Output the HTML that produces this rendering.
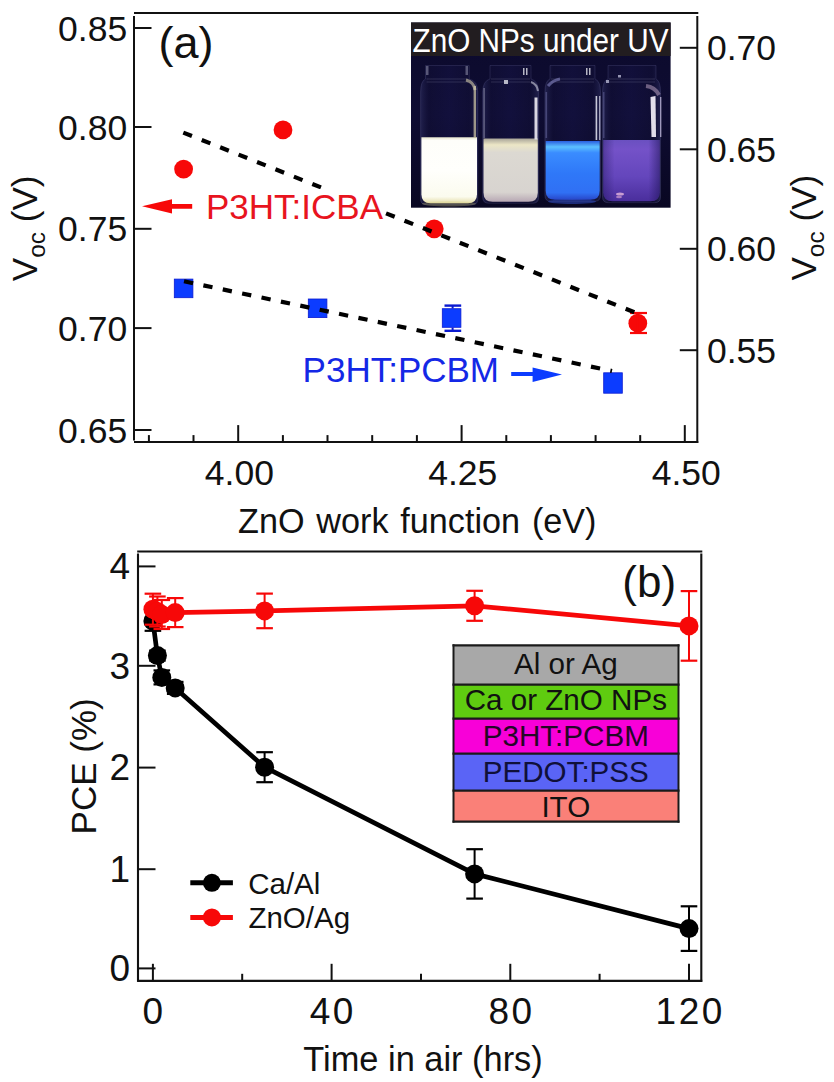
<!DOCTYPE html>
<html><head><meta charset="utf-8"><style>
html,body{margin:0;padding:0;background:#fff;}
svg{display:block;font-family:"Liberation Sans", sans-serif;}
</style></head><body>
<svg width="834" height="1082" viewBox="0 0 834 1082">
<rect width="834" height="1082" fill="#fff"/>
<line x1="134.0" y1="13.0" x2="698.3" y2="13.0" stroke="#111" stroke-width="2.2" />
<line x1="134.0" y1="16.0" x2="134.0" y2="440.5" stroke="#111" stroke-width="2" />
<line x1="697.3" y1="16.0" x2="697.3" y2="443.1" stroke="#111" stroke-width="2" />
<line x1="134.0" y1="442.1" x2="698.3" y2="442.1" stroke="#111" stroke-width="2" />
<line x1="134.0" y1="28.0" x2="151.5" y2="28.0" stroke="#111" stroke-width="2" />
<text x="127.2" y="40.5" font-size="35.5" text-anchor="end" fill="#111" >0.85</text>
<line x1="134.0" y1="127.0" x2="151.5" y2="127.0" stroke="#111" stroke-width="2" />
<text x="127.2" y="139.5" font-size="35.5" text-anchor="end" fill="#111" >0.80</text>
<line x1="134.0" y1="228.8" x2="151.5" y2="228.8" stroke="#111" stroke-width="2" />
<text x="127.2" y="241.3" font-size="35.5" text-anchor="end" fill="#111" >0.75</text>
<line x1="134.0" y1="328.1" x2="151.5" y2="328.1" stroke="#111" stroke-width="2" />
<text x="127.2" y="340.6" font-size="35.5" text-anchor="end" fill="#111" >0.70</text>
<line x1="134.0" y1="430.0" x2="151.5" y2="430.0" stroke="#111" stroke-width="2" />
<text x="127.2" y="442.5" font-size="35.5" text-anchor="end" fill="#111" >0.65</text>
<line x1="679.8" y1="47.8" x2="697.3" y2="47.8" stroke="#111" stroke-width="2" />
<text x="707.0" y="60.3" font-size="35.5" text-anchor="start" fill="#111" >0.70</text>
<line x1="679.8" y1="149.3" x2="697.3" y2="149.3" stroke="#111" stroke-width="2" />
<text x="707.0" y="161.8" font-size="35.5" text-anchor="start" fill="#111" >0.65</text>
<line x1="679.8" y1="248.8" x2="697.3" y2="248.8" stroke="#111" stroke-width="2" />
<text x="707.0" y="261.3" font-size="35.5" text-anchor="start" fill="#111" >0.60</text>
<line x1="679.8" y1="350.2" x2="697.3" y2="350.2" stroke="#111" stroke-width="2" />
<text x="707.0" y="362.7" font-size="35.5" text-anchor="start" fill="#111" >0.55</text>
<line x1="238.2" y1="442.1" x2="238.2" y2="425.1" stroke="#111" stroke-width="2" />
<line x1="461.6" y1="442.1" x2="461.6" y2="425.1" stroke="#111" stroke-width="2" />
<line x1="684.8" y1="442.1" x2="684.8" y2="425.1" stroke="#111" stroke-width="2" />
<line x1="148.9" y1="442.1" x2="148.9" y2="435.1" stroke="#111" stroke-width="2" />
<line x1="193.5" y1="442.1" x2="193.5" y2="435.1" stroke="#111" stroke-width="2" />
<line x1="282.9" y1="442.1" x2="282.9" y2="435.1" stroke="#111" stroke-width="2" />
<line x1="327.5" y1="442.1" x2="327.5" y2="435.1" stroke="#111" stroke-width="2" />
<line x1="372.2" y1="442.1" x2="372.2" y2="435.1" stroke="#111" stroke-width="2" />
<line x1="416.9" y1="442.1" x2="416.9" y2="435.1" stroke="#111" stroke-width="2" />
<line x1="506.3" y1="442.1" x2="506.3" y2="435.1" stroke="#111" stroke-width="2" />
<line x1="550.9" y1="442.1" x2="550.9" y2="435.1" stroke="#111" stroke-width="2" />
<line x1="595.6" y1="442.1" x2="595.6" y2="435.1" stroke="#111" stroke-width="2" />
<line x1="640.2" y1="442.1" x2="640.2" y2="435.1" stroke="#111" stroke-width="2" />
<text x="239.4" y="484.6" font-size="35.5" text-anchor="middle" fill="#111" >4.00</text>
<text x="462.8" y="484.6" font-size="35.5" text-anchor="middle" fill="#111" >4.25</text>
<text x="686.2" y="484.6" font-size="35.5" text-anchor="middle" fill="#111" >4.50</text>
<text x="238.0" y="532.5" font-size="35" text-anchor="start" fill="#111" word-spacing="2.4" textLength="358.5" lengthAdjust="spacingAndGlyphs">ZnO work function (eV)</text>
<text x="158.5" y="58.0" font-size="45" text-anchor="start" fill="#111" >(a)</text>
<text transform="translate(36.9,281.2) rotate(-90)" font-size="35" fill="#111">V<tspan font-size="24.5" dy="8">oc</tspan><tspan dy="-8"> (V)</tspan></text>
<text transform="translate(816.4,280.5) rotate(-90)" font-size="35" fill="#111">V<tspan font-size="24.5" dy="8">oc</tspan><tspan dy="-8"> (V)</tspan></text>
<defs>
<linearGradient id="bg" x1="0" y1="0" x2="0" y2="1"><stop offset="0" stop-color="#0c0a2c"/><stop offset="0.5" stop-color="#0e0c32"/><stop offset="1" stop-color="#090722"/></linearGradient>
<linearGradient id="l1" x1="0" y1="0" x2="0" y2="1"><stop offset="0" stop-color="#e6e4cc"/><stop offset="0.05" stop-color="#fefefa"/><stop offset="0.5" stop-color="#fffffc"/><stop offset="0.9" stop-color="#fbfbee"/><stop offset="1" stop-color="#e4dca8"/></linearGradient>
<linearGradient id="l2" x1="0" y1="0" x2="0" y2="1"><stop offset="0" stop-color="#a8a498"/><stop offset="0.1" stop-color="#ece6c6"/><stop offset="0.22" stop-color="#dcd9d2"/><stop offset="0.85" stop-color="#d8d4d0"/><stop offset="1" stop-color="#b8a8b4"/></linearGradient>
<linearGradient id="l3" x1="0" y1="0" x2="0" y2="1"><stop offset="0" stop-color="#2a5ee0"/><stop offset="0.1" stop-color="#5cc0ff"/><stop offset="0.2" stop-color="#3a8cff"/><stop offset="0.55" stop-color="#2f78f8"/><stop offset="0.88" stop-color="#3070f4"/><stop offset="1" stop-color="#2846c8"/></linearGradient>
<linearGradient id="l4" x1="0" y1="0" x2="0" y2="1"><stop offset="0" stop-color="#6a50c0"/><stop offset="0.15" stop-color="#7452c8"/><stop offset="0.6" stop-color="#6446bc"/><stop offset="1" stop-color="#4a2e9c"/></linearGradient><linearGradient id="l4h" x1="0" y1="0" x2="1" y2="0"><stop offset="0" stop-color="#1a1050" stop-opacity="0.35"/><stop offset="0.2" stop-color="#1a1050" stop-opacity="0"/><stop offset="0.8" stop-color="#1a1050" stop-opacity="0"/><stop offset="1" stop-color="#1a1050" stop-opacity="0.5"/></linearGradient>
<linearGradient id="gl" x1="0" y1="0" x2="1" y2="0"><stop offset="0" stop-color="#2a2a5a" stop-opacity="0.7"/><stop offset="0.15" stop-color="#14123a" stop-opacity="0.35"/><stop offset="0.5" stop-color="#1a1850" stop-opacity="0.35"/><stop offset="0.85" stop-color="#14123a" stop-opacity="0.35"/><stop offset="1" stop-color="#2a2a5a" stop-opacity="0.7"/></linearGradient>
</defs>
<rect x="411.0" y="22.5" width="259.6" height="185.2" fill="url(#bg)"/>
<rect x="411.0" y="22.5" width="259.6" height="33.5" fill="#221d20"/>
<path d="M425.5 65.5 L469.2 65.5 L469.2 79 Q477.8 81 477.8 92 L477.8 199.3 Q477.8 204.8 471.8 204.8 L426.6 204.8 Q420.6 204.8 420.6 199.3 L420.6 92 Q420.6 81 425.5 79 Z" fill="url(#gl)" stroke="#6a6a9a" stroke-width="0.8" stroke-opacity="0.3"/>
<path d="M426.5 79 L468.2 79 M426.5 82 L468.2 82" stroke="#8a8aa8" stroke-width="1" stroke-opacity="0.25"/>
<path d="M421.40000000000003 137.2 L477.0 137.2 L477.0 194.3 Q477.0 203.3 467.8 203.3 L430.6 203.3 Q421.40000000000003 203.3 421.40000000000003 194.3 Z" fill="url(#l1)"/>
<path d="M490.0 65.5 L531.0 65.5 L531.0 79 Q538.6 81 538.6 92 L538.6 197.7 Q538.6 203.2 532.6 203.2 L488.7 203.2 Q482.7 203.2 482.7 197.7 L482.7 92 Q482.7 81 490.0 79 Z" fill="url(#gl)" stroke="#6a6a9a" stroke-width="0.8" stroke-opacity="0.3"/>
<path d="M491.0 79 L530.0 79 M491.0 82 L530.0 82" stroke="#8a8aa8" stroke-width="1" stroke-opacity="0.25"/>
<path d="M483.5 138.5 L537.8000000000001 138.5 L537.8000000000001 192.7 Q537.8000000000001 201.7 528.6 201.7 L492.7 201.7 Q483.5 201.7 483.5 192.7 Z" fill="url(#l2)"/>
<path d="M550.0 65.5 L595.0 65.5 L595.0 79 Q600.5 81 600.5 92 L600.5 195.8 Q600.5 201.3 594.5 201.3 L550.9 201.3 Q544.9 201.3 544.9 195.8 L544.9 92 Q544.9 81 550.0 79 Z" fill="url(#gl)" stroke="#6a6a9a" stroke-width="0.8" stroke-opacity="0.3"/>
<path d="M551.0 79 L594.0 79 M551.0 82 L594.0 82" stroke="#8a8aa8" stroke-width="1" stroke-opacity="0.25"/>
<path d="M545.6999999999999 141.0 L599.7 141.0 L599.7 190.8 Q599.7 199.8 590.5 199.8 L554.9 199.8 Q545.6999999999999 199.8 545.6999999999999 190.8 Z" fill="url(#l3)"/>
<path d="M608.0 65.5 L656.0 65.5 L656.0 79 Q660.5 81 660.5 92 L660.5 197.2 Q660.5 202.7 654.5 202.7 L608.5 202.7 Q602.5 202.7 602.5 197.2 L602.5 92 Q602.5 81 608.0 79 Z" fill="url(#gl)" stroke="#6a6a9a" stroke-width="0.8" stroke-opacity="0.3"/>
<path d="M609.0 79 L655.0 79 M609.0 82 L655.0 82" stroke="#8a8aa8" stroke-width="1" stroke-opacity="0.25"/>
<path d="M603.3 140.0 L659.7 140.0 L659.7 192.2 Q659.7 201.2 650.5 201.2 L612.5 201.2 Q603.3 201.2 603.3 192.2 Z" fill="url(#l4)"/>
<path d="M603.3 140 L659.7 140 L659.7 192 Q659.7 201.2 650.5 201.2 L612.5 201.2 Q603.3 201.2 603.3 192 Z" fill="url(#l4h)"/>
<ellipse cx="449" cy="203.8" rx="27" ry="2.6" fill="#d8d080" opacity="0.3"/>
<ellipse cx="572" cy="201.5" rx="24" ry="2.5" fill="#3050d0" opacity="0.5"/>
<ellipse cx="620" cy="194" rx="4" ry="1.6" fill="#f0c0e0" opacity="0.75"/><ellipse cx="619" cy="197" rx="3" ry="1.2" fill="#e8b0d8" opacity="0.6"/>
<rect x="473.6" y="86" width="2.4" height="52" fill="#c8c0a0" opacity="0.75"/>
<path d="M466 80 Q474 82 475 90" stroke="#d8d0b0" stroke-width="3" fill="none" opacity="0.6"/>
<rect x="426" y="66" width="2.5" height="9" fill="#b0b0c8" opacity="0.45"/><rect x="465.5" y="66" width="2.5" height="9" fill="#b0b0c8" opacity="0.45"/>
<rect x="534.5" y="97.5" width="3" height="42" fill="#f0ecf4" opacity="0.9"/>
<rect x="483.2" y="88" width="1.8" height="50" fill="#a0a0b8" opacity="0.45"/>
<rect x="504" y="80" width="4" height="4" fill="#e0e0e8" opacity="0.8"/><rect x="523" y="68" width="1.5" height="7" fill="#e0e0e8" opacity="0.8"/><rect x="526" y="68" width="1.5" height="7" fill="#e0e0e8" opacity="0.8"/>
<path d="M531 82 Q537 84 538 91" stroke="#d0d0e0" stroke-width="2" fill="none" opacity="0.6"/>
<rect x="595.6" y="96" width="1.6" height="44" fill="#e8e8f4" opacity="0.85"/><rect x="599" y="96" width="1.4" height="44" fill="#d8d8ec" opacity="0.7"/>
<rect x="586" y="68" width="1.5" height="7" fill="#e0e0e8" opacity="0.8"/><rect x="589" y="68" width="1.5" height="7" fill="#e0e0e8" opacity="0.8"/>
<path d="M548 86 Q553 80 560 79" stroke="#9090d0" stroke-width="3" fill="none" opacity="0.55"/>
<rect x="545.5" y="92" width="1.6" height="46" fill="#7070a8" opacity="0.5"/>
<path d="M650.5 97 L655.5 96 L656 137 L651.5 137 Z" fill="#f4f0fa" opacity="0.92"/>
<rect x="660" y="97" width="1.4" height="40" fill="#d0c8e8" opacity="0.7"/>
<path d="M646 86 Q655 87 659 95" stroke="#b8a0c0" stroke-width="4" fill="none" opacity="0.55"/>
<rect x="603" y="92" width="1.5" height="46" fill="#6a6aa0" opacity="0.5"/>
<rect x="606" y="80" width="3" height="3" fill="#d0d0e8" opacity="0.7"/><rect x="618" y="75" width="3" height="2.5" fill="#d0d0e8" opacity="0.7"/>
<text x="412.5" y="51.7" font-size="32.5" text-anchor="start" fill="#ffffff" textLength="256" lengthAdjust="spacingAndGlyphs">ZnO NPs under UV</text>
<circle cx="183.6" cy="169.1" r="9.4" fill="#f70808"/>
<circle cx="283.0" cy="129.9" r="9.4" fill="#f70808"/>
<circle cx="434.2" cy="228.8" r="9.4" fill="#f70808"/>
<circle cx="637.8" cy="323.2" r="9.4" fill="#f70808"/>
<line x1="637.8" y1="313.0" x2="637.8" y2="333.0" stroke="#f70808" stroke-width="2" />
<line x1="630.0" y1="313.0" x2="647.0" y2="313.0" stroke="#f70808" stroke-width="2.2" />
<line x1="630.0" y1="333.0" x2="647.0" y2="333.0" stroke="#f70808" stroke-width="2.2" />
<rect x="174.29999999999998" y="279.09999999999997" width="18.6" height="18.6" fill="#0c3cff" stroke="#0a1ad0" stroke-width="0.8"/>
<rect x="308.3" y="299.0" width="18.6" height="18.6" fill="#0c3cff" stroke="#0a1ad0" stroke-width="0.8"/>
<rect x="442.3" y="308.7" width="18.6" height="18.6" fill="#0c3cff" stroke="#0a1ad0" stroke-width="0.8"/>
<rect x="603.7" y="372.8" width="18.6" height="20.4" fill="#0c3cff" stroke="#0a1ad0" stroke-width="0.8"/>
<line x1="452.6" y1="305.6" x2="452.6" y2="308.5" stroke="#0a1ad0" stroke-width="2" />
<line x1="452.6" y1="327.5" x2="452.6" y2="330.8" stroke="#0a1ad0" stroke-width="2" />
<line x1="444.5" y1="305.6" x2="461.2" y2="305.6" stroke="#0a1ad0" stroke-width="2.4" />
<line x1="444.5" y1="330.8" x2="461.2" y2="330.8" stroke="#0a1ad0" stroke-width="2.4" />
<line x1="183.3" y1="132.6" x2="635.3" y2="312.6" stroke="#000" stroke-width="4.2" stroke-dasharray="9.3 10.54"/>
<line x1="184.0" y1="281.3" x2="612.0" y2="371.0" stroke="#000" stroke-width="4.2" stroke-dasharray="9.3 10.5"/>
<path d="M142 206.3 L172 199.2 L172 203.9 L192.2 203.9 L192.2 208.7 L172 208.7 L172 213.4 Z" fill="#f70808"/>
<rect x="204" y="189" width="181" height="36" fill="#fff"/>
<text x="206.0" y="218.6" font-size="35" text-anchor="start" fill="#e8141e" >P3HT:ICBA</text>
<path d="M562 374.6 L532.6 367.6 L532.6 372.1 L511.2 372.1 L511.2 375.9 L532.6 375.9 L532.6 382.0 Z" fill="#0c3cff"/>
<text x="302.6" y="382.3" font-size="35" text-anchor="start" fill="#1428e6" >P3HT:PCBM</text>
<line x1="137.2" y1="551.5" x2="702.3" y2="551.5" stroke="#111" stroke-width="2.2" />
<line x1="138.0" y1="553.5" x2="138.0" y2="981.8" stroke="#111" stroke-width="2.1" />
<line x1="701.3" y1="553.5" x2="701.3" y2="981.8" stroke="#111" stroke-width="2.1" />
<line x1="137.2" y1="980.8" x2="702.3" y2="980.8" stroke="#111" stroke-width="2.2" />
<line x1="138.0" y1="968.4" x2="155.5" y2="968.4" stroke="#111" stroke-width="2" />
<text x="130.0" y="981.2" font-size="37" text-anchor="end" fill="#111" >0</text>
<line x1="138.0" y1="869.2" x2="155.5" y2="869.2" stroke="#111" stroke-width="2" />
<text x="130.0" y="882.0" font-size="37" text-anchor="end" fill="#111" >1</text>
<line x1="138.0" y1="767.6" x2="155.5" y2="767.6" stroke="#111" stroke-width="2" />
<text x="130.0" y="780.4" font-size="37" text-anchor="end" fill="#111" >2</text>
<line x1="138.0" y1="665.8" x2="155.5" y2="665.8" stroke="#111" stroke-width="2" />
<text x="130.0" y="678.6" font-size="37" text-anchor="end" fill="#111" >3</text>
<line x1="138.0" y1="566.4" x2="155.5" y2="566.4" stroke="#111" stroke-width="2" />
<text x="130.0" y="579.2" font-size="37" text-anchor="end" fill="#111" >4</text>
<line x1="152.9" y1="980.8" x2="152.9" y2="963.8" stroke="#111" stroke-width="2" />
<text x="154.1" y="1023.5" font-size="37" text-anchor="middle" fill="#111" letter-spacing="2.5">0</text>
<line x1="331.6" y1="980.8" x2="331.6" y2="963.8" stroke="#111" stroke-width="2" />
<text x="332.8" y="1023.5" font-size="37" text-anchor="middle" fill="#111" letter-spacing="2.5">40</text>
<line x1="510.3" y1="980.8" x2="510.3" y2="963.8" stroke="#111" stroke-width="2" />
<text x="511.5" y="1023.5" font-size="37" text-anchor="middle" fill="#111" letter-spacing="2.5">80</text>
<line x1="689.0" y1="980.8" x2="689.0" y2="963.8" stroke="#111" stroke-width="2" />
<text x="690.2" y="1023.5" font-size="37" text-anchor="middle" fill="#111" letter-spacing="2.5">120</text>
<line x1="242.2" y1="980.8" x2="242.2" y2="973.8" stroke="#111" stroke-width="2" />
<line x1="421.0" y1="980.8" x2="421.0" y2="973.8" stroke="#111" stroke-width="2" />
<line x1="599.6" y1="980.8" x2="599.6" y2="973.8" stroke="#111" stroke-width="2" />
<text x="303.3" y="1071.3" font-size="34.4" text-anchor="start" fill="#111" >Time in air (hrs)</text>
<text transform="translate(95.9,834.4) rotate(-90)" font-size="35" fill="#111">PCE (%)</text>
<text x="622.3" y="596.6" font-size="44" text-anchor="start" fill="#111" >(b)</text>
<rect x="453.5" y="645.4" width="225" height="39.200000000000045" fill="#a8a8a8"/>
<rect x="453.5" y="684.6" width="225" height="34.0" fill="#5fcc10"/>
<rect x="453.5" y="718.6" width="225" height="35.0" fill="#f800d8"/>
<rect x="453.5" y="753.6" width="225" height="37.0" fill="#5a64f6"/>
<rect x="453.5" y="790.6" width="225" height="31.0" fill="#fa8078"/>
<line x1="452.5" y1="645.4" x2="679.5" y2="645.4" stroke="#1a1a1a" stroke-width="2.2" />
<line x1="452.5" y1="684.6" x2="679.5" y2="684.6" stroke="#1a1a1a" stroke-width="2.2" />
<line x1="452.5" y1="718.6" x2="679.5" y2="718.6" stroke="#1a1a1a" stroke-width="2.2" />
<line x1="452.5" y1="753.6" x2="679.5" y2="753.6" stroke="#1a1a1a" stroke-width="2.2" />
<line x1="452.5" y1="790.6" x2="679.5" y2="790.6" stroke="#1a1a1a" stroke-width="2.2" />
<line x1="452.5" y1="821.6" x2="679.5" y2="821.6" stroke="#1a1a1a" stroke-width="2.2" />
<line x1="453.5" y1="644.3" x2="453.5" y2="822.7" stroke="#1a1a1a" stroke-width="2" />
<line x1="678.5" y1="644.3" x2="678.5" y2="822.7" stroke="#1a1a1a" stroke-width="2" />
<text x="565.8" y="674.0" font-size="29.6" text-anchor="middle" fill="#111" >Al or Ag</text>
<text x="565.8" y="710.1" font-size="29.6" text-anchor="middle" fill="#111" >Ca or ZnO NPs</text>
<text x="565.8" y="745.6" font-size="29.6" text-anchor="middle" fill="#240626" >P3HT:PCBM</text>
<text x="565.8" y="781.7" font-size="29.6" text-anchor="middle" fill="#10103a" >PEDOT:PSS</text>
<text x="565.8" y="817.4" font-size="29.6" text-anchor="middle" fill="#111" >ITO</text>
<line x1="152.9" y1="611.2" x2="152.9" y2="630.8" stroke="#000" stroke-width="2" />
<line x1="144.6" y1="611.2" x2="161.2" y2="611.2" stroke="#000" stroke-width="2.2" />
<line x1="144.6" y1="630.8" x2="161.2" y2="630.8" stroke="#000" stroke-width="2.2" />
<line x1="157.4" y1="650.6" x2="157.4" y2="660.6" stroke="#000" stroke-width="2" />
<line x1="149.1" y1="650.6" x2="165.7" y2="650.6" stroke="#000" stroke-width="2.2" />
<line x1="149.1" y1="660.6" x2="165.7" y2="660.6" stroke="#000" stroke-width="2.2" />
<line x1="161.8" y1="670.4" x2="161.8" y2="684.4" stroke="#000" stroke-width="2" />
<line x1="153.5" y1="670.4" x2="170.1" y2="670.4" stroke="#000" stroke-width="2.2" />
<line x1="153.5" y1="684.4" x2="170.1" y2="684.4" stroke="#000" stroke-width="2.2" />
<line x1="175.2" y1="681.9" x2="175.2" y2="693.9" stroke="#000" stroke-width="2" />
<line x1="166.9" y1="681.9" x2="183.5" y2="681.9" stroke="#000" stroke-width="2.2" />
<line x1="166.9" y1="693.9" x2="183.5" y2="693.9" stroke="#000" stroke-width="2.2" />
<line x1="264.6" y1="752.2" x2="264.6" y2="782.2" stroke="#000" stroke-width="2" />
<line x1="256.3" y1="752.2" x2="272.9" y2="752.2" stroke="#000" stroke-width="2.2" />
<line x1="256.3" y1="782.2" x2="272.9" y2="782.2" stroke="#000" stroke-width="2.2" />
<line x1="474.6" y1="849.2" x2="474.6" y2="898.6" stroke="#000" stroke-width="2" />
<line x1="466.3" y1="849.2" x2="482.9" y2="849.2" stroke="#000" stroke-width="2.2" />
<line x1="466.3" y1="898.6" x2="482.9" y2="898.6" stroke="#000" stroke-width="2.2" />
<line x1="689.0" y1="906.3" x2="689.0" y2="950.9" stroke="#000" stroke-width="2" />
<line x1="680.7" y1="906.3" x2="697.3" y2="906.3" stroke="#000" stroke-width="2.2" />
<line x1="680.7" y1="950.9" x2="697.3" y2="950.9" stroke="#000" stroke-width="2.2" />
<polyline points="152.9,621.0 157.4,655.6 161.8,677.4 175.2,687.9 264.6,767.2 474.6,873.9 689.0,928.6" fill="none" stroke="#000" stroke-width="4.7" stroke-linejoin="round"/>
<circle cx="152.9" cy="621.0" r="9.5" fill="#000"/>
<circle cx="157.4" cy="655.6" r="9.5" fill="#000"/>
<circle cx="161.8" cy="677.4" r="9.5" fill="#000"/>
<circle cx="175.2" cy="687.9" r="9.5" fill="#000"/>
<circle cx="264.6" cy="767.2" r="9.5" fill="#000"/>
<circle cx="474.6" cy="873.9" r="9.5" fill="#000"/>
<circle cx="689.0" cy="928.6" r="9.5" fill="#000"/>
<line x1="152.9" y1="593.7" x2="152.9" y2="624.7" stroke="#f70808" stroke-width="2" />
<line x1="144.6" y1="593.7" x2="161.2" y2="593.7" stroke="#f70808" stroke-width="2.2" />
<line x1="144.6" y1="624.7" x2="161.2" y2="624.7" stroke="#f70808" stroke-width="2.2" />
<line x1="157.4" y1="596.5" x2="157.4" y2="626.5" stroke="#f70808" stroke-width="2" />
<line x1="149.1" y1="596.5" x2="165.7" y2="596.5" stroke="#f70808" stroke-width="2.2" />
<line x1="149.1" y1="626.5" x2="165.7" y2="626.5" stroke="#f70808" stroke-width="2.2" />
<line x1="161.8" y1="600.0" x2="161.8" y2="629.0" stroke="#f70808" stroke-width="2" />
<line x1="153.5" y1="600.0" x2="170.1" y2="600.0" stroke="#f70808" stroke-width="2.2" />
<line x1="153.5" y1="629.0" x2="170.1" y2="629.0" stroke="#f70808" stroke-width="2.2" />
<line x1="175.2" y1="598.1" x2="175.2" y2="627.1" stroke="#f70808" stroke-width="2" />
<line x1="166.9" y1="598.1" x2="183.5" y2="598.1" stroke="#f70808" stroke-width="2.2" />
<line x1="166.9" y1="627.1" x2="183.5" y2="627.1" stroke="#f70808" stroke-width="2.2" />
<line x1="264.6" y1="593.6" x2="264.6" y2="628.2" stroke="#f70808" stroke-width="2" />
<line x1="256.3" y1="593.6" x2="272.9" y2="593.6" stroke="#f70808" stroke-width="2.2" />
<line x1="256.3" y1="628.2" x2="272.9" y2="628.2" stroke="#f70808" stroke-width="2.2" />
<line x1="474.6" y1="590.8" x2="474.6" y2="620.8" stroke="#f70808" stroke-width="2" />
<line x1="466.3" y1="590.8" x2="482.9" y2="590.8" stroke="#f70808" stroke-width="2.2" />
<line x1="466.3" y1="620.8" x2="482.9" y2="620.8" stroke="#f70808" stroke-width="2.2" />
<line x1="689.0" y1="591.1" x2="689.0" y2="660.7" stroke="#f70808" stroke-width="2" />
<line x1="680.7" y1="591.1" x2="697.3" y2="591.1" stroke="#f70808" stroke-width="2.2" />
<line x1="680.7" y1="660.7" x2="697.3" y2="660.7" stroke="#f70808" stroke-width="2.2" />
<polyline points="152.9,609.2 157.4,611.5 161.8,614.5 175.2,612.6 264.6,610.9 474.6,605.8 689.0,625.9" fill="none" stroke="#f70808" stroke-width="4.7" stroke-linejoin="round"/>
<circle cx="152.9" cy="609.2" r="9.5" fill="#f70808"/>
<circle cx="157.4" cy="611.5" r="9.5" fill="#f70808"/>
<circle cx="161.8" cy="614.5" r="9.5" fill="#f70808"/>
<circle cx="175.2" cy="612.6" r="9.5" fill="#f70808"/>
<circle cx="264.6" cy="610.9" r="9.5" fill="#f70808"/>
<circle cx="474.6" cy="605.8" r="9.5" fill="#f70808"/>
<circle cx="689.0" cy="625.9" r="9.5" fill="#f70808"/>
<line x1="190.3" y1="882.8" x2="232.9" y2="882.8" stroke="#000" stroke-width="5" />
<circle cx="211.9" cy="882.8" r="9" fill="#000"/>
<line x1="190.3" y1="917.4" x2="232.9" y2="917.4" stroke="#f70808" stroke-width="5" />
<circle cx="211.9" cy="917.4" r="9" fill="#f70808"/>
<text x="248.2" y="893.8" font-size="29.5" text-anchor="start" fill="#111" >Ca/Al</text>
<text x="248.4" y="928.3" font-size="29.5" text-anchor="start" fill="#111" >ZnO/Ag</text>
</svg>
</body></html>
